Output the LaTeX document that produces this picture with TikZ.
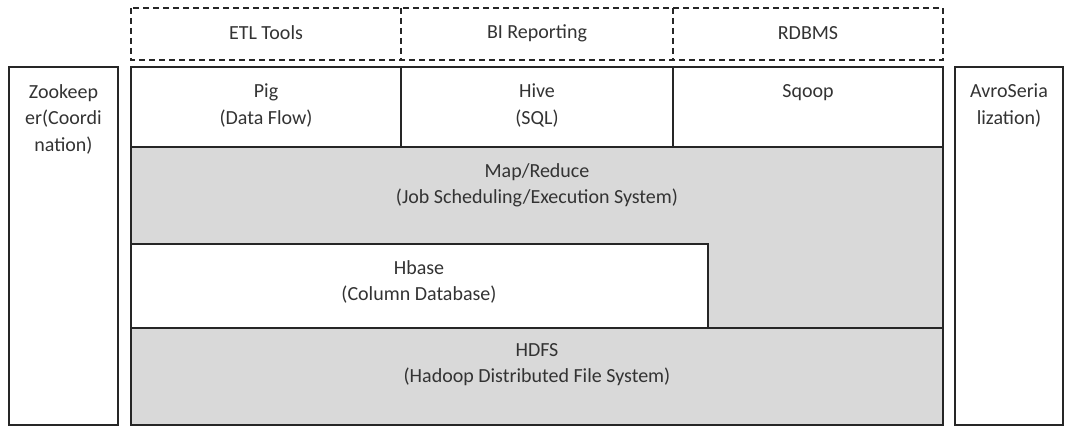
\documentclass[tikz,border=0pt]{standalone}
\usepackage{fontspec}
\setmainfont{Carlito}
\begin{document}
\begin{tikzpicture}[x=1pt,y=-1pt,
  box/.style={draw=black!85, line width=1.5pt},
  shaded/.style={box, fill=graybg},
  dashbox/.style={draw=black!85, line width=1.5pt, dash pattern=on 6pt off 4pt},
  lbl/.style={align=center, text=black!80, font=\fontsize{20}{26.5}\selectfont, inner sep=0pt}
]
\definecolor{graybg}{HTML}{D9D9D9}
\useasboundingbox (0,0) rectangle (1070,438);
% dashed top row
\draw[dashbox] (131,8) rectangle (943,60);
\draw[dashbox] (401,8) -- (401,60);
\draw[dashbox] (673,8) -- (673,60);
\node[lbl] (etl) at (266,33) {ETL Tools};
\node[lbl] (bi) at (537,33) {BI Reporting};
\node[lbl] (rdbms) at (808,33) {RDBMS};
% side boxes
\draw[box] (9,67) rectangle (118,425);
\node[lbl, anchor=north] (zoo) at (63.5,84) {Zookeep\\er(Coordi\\nation)};
\draw[box] (955,67) rectangle (1063,425);
\node[lbl, anchor=north] (avro) at (1009,84) {AvroSeria\\lization)};
% top tools row
\draw[box] (131,67) rectangle (943,147);
\draw[box] (401,67) -- (401,147);
\draw[box] (673,67) -- (673,147);
\node[lbl, anchor=north] (pig) at (266,84) {Pig\\(Data Flow)};
\node[lbl, anchor=north] (hive) at (537,84) {Hive\\(SQL)};
\node[lbl, anchor=north] (sqoop) at (808,84) {Sqoop};
% map reduce
\draw[shaded] (131,147) -- (943,147) -- (943,328) -- (708,328) -- (708,244) -- (131,244) -- cycle;
\node[lbl, anchor=north] (mr) at (537,163) {Map/Reduce\\(Job Scheduling/Execution System)};
% hbase
\draw[box, fill=white] (131,244) rectangle (708,328);
\node[lbl, anchor=north] (hbase) at (419,260) {Hbase\\(Column Database)};
% hdfs
\draw[shaded] (131,328) rectangle (943,425);
\node[lbl, anchor=north] (hdfs) at (537,343) {HDFS\\(Hadoop Distributed File System)};
\end{tikzpicture}
\end{document}
